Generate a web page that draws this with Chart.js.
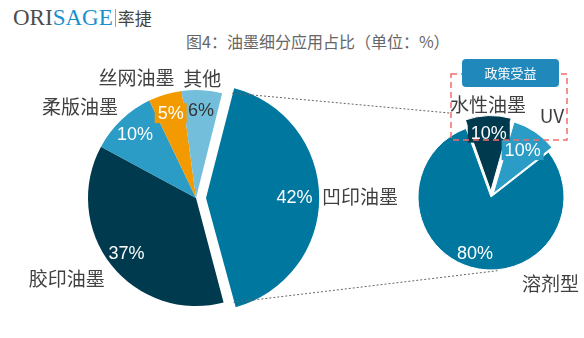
<!DOCTYPE html>
<html>
<head>
<meta charset="utf-8">
<script src="https://cdn.jsdelivr.net/npm/chart.js@4.4.1/dist/chart.umd.min.js"></script>
<style>
  body { margin: 0; background: #fff; }
  #wrap { position: relative; width: 584px; height: 338px; overflow: hidden; font-family: "Noto Sans CJK SC", sans-serif; }
  canvas { position: absolute; left: 0; top: 0; }
  .logo { position: absolute; left: 13px; top: 5px; white-space: nowrap; }
  .logo .ori { font: 23px "Liberation Serif", serif; color: #4d4d4d; }
  .logo .sage { font: 23px "Liberation Serif", serif; color: #1a8fd0; }
  .logo .sep { display: inline-block; width: 1px; height: 18px; background: #7fa9c8; margin: 0 2px; vertical-align: -2px; }
  .logo .cn { font-size: 17px; color: #444; }
  .title { position: absolute; left: 186px; top: 29px; font-size: 16px; color: #666; white-space: nowrap; }
</style>
</head>
<body>
<div id="wrap">
  <div class="logo"><span class="ori">ORI</span><span class="sage">SAGE</span><span class="sep"></span><span class="cn">率捷</span></div>
  <div class="title">图4：油墨细分应用占比（单位：%）</div>
  <canvas id="mainPie" width="584" height="338"></canvas>
  <canvas id="subPie" width="584" height="338"></canvas>
</div>
<script>
// data
const mainLabels = ['凹印油墨', '胶印油墨', '柔版油墨', '丝网油墨', '其他'];
const mainValues = [42, 37, 10, 5, 6];
const subLabels = ['水性油墨', 'UV', '溶剂型'];
const subValues = [10, 10, 80];
const tagText = '政策受益';

// styles
const mainColors = ['#00779f', '#003a4e', '#2a9cc6', '#f39a00', '#72bedb'];
const subColors = ['#003a4e', '#2a9cc6', '#00779f'];
const OFFSET_DIV = 4; // chart.js v4 arc translates by offset/4

const mainPlace = {
  pctRatio: [0.82, 0.82, 0.82, 0.82, 0.82],
  nameGap: [8, 8, 5, 5, 2],
  pctColor: ['#fff', '#fff', '#fff', '#fff', '#333'],
  pctBox: [false, false, false, true, false],
  nameAngle: [null, null, null, 349, null],
  nameAlign: [null, null, null, 'right', null]
};
const subPlace = {
  pctRatio: [0.8, 0.72, 0.8],
  nameGap: [4, 10, 10],
  pctColor: ['#fff', '#fff', '#fff'],
  pctBox: [true, true, false],
  nameAngle: [null, null, 158],
  nameAlign: [null, null, null]
};

function pieLabels(place) {
  return {
    id: 'pieLabels',
    afterDatasetsDraw(chart) {
      const ctx = chart.ctx;
      const meta = chart.getDatasetMeta(0);
      const ds = chart.data.datasets[0];
      meta.data.forEach((arc, i) => {
        const p = arc.getProps(['x', 'y', 'startAngle', 'endAngle', 'outerRadius']);
        const mid = (p.startAngle + p.endAngle) / 2;
        const shift = (arc.options.offset || 0) / OFFSET_DIV;
        const cx = p.x + Math.cos(mid) * shift;
        const cy = p.y + Math.sin(mid) * shift;

        // percent label
        const pr = p.outerRadius * place.pctRatio[i];
        const px = cx + Math.cos(mid) * pr;
        const py = cy + Math.sin(mid) * pr;
        const txt = ds.data[i] + '%';
        ctx.save();
        ctx.font = '18px "Liberation Sans", Arial, sans-serif';
        ctx.textAlign = 'center';
        ctx.textBaseline = 'middle';
        if (place.pctBox[i]) {
          const w = ctx.measureText(txt).width + 6;
          ctx.fillStyle = ds.backgroundColor[i];
          ctx.fillRect(px - w / 2, py - 10, w, 20);
        }
        ctx.fillStyle = place.pctColor[i];
        ctx.fillText(txt, px, py + 1);

        // category label
        const la = place.nameAngle[i] != null ? (place.nameAngle[i] - 90) * Math.PI / 180 : mid;
        const nr = p.outerRadius + place.nameGap[i];
        const nx = cx + Math.cos(la) * nr;
        const ny = cy + Math.sin(la) * nr;
        const cs = Math.cos(la), sn = Math.sin(la);
        ctx.font = '19px "Noto Sans CJK SC", sans-serif';
        ctx.fillStyle = '#404040';
        ctx.textAlign = place.nameAlign[i] || (cs > 0.3 ? 'left' : (cs < -0.2 ? 'right' : 'center'));
        ctx.textBaseline = sn < -0.5 ? 'bottom' : (sn > 0.5 ? 'top' : 'middle');
        ctx.fillText(chart.data.labels[i], nx, ny);
        ctx.restore();
      });
    }
  };
}

let mainChart;

const overlay = {
  id: 'overlay',
  afterDraw(chart) {
    const ctx = chart.ctx;
    // connector lines from the exploded slice to the second pie
    const a = mainChart.getDatasetMeta(0).data[0];
    const ap = a.getProps(['x', 'y', 'startAngle', 'endAngle', 'outerRadius']);
    const am = (ap.startAngle + ap.endAngle) / 2;
    const ash = (a.options.offset || 0) / OFFSET_DIV;
    const ax = ap.x + Math.cos(am) * ash, ay = ap.y + Math.sin(am) * ash;
    const b = chart.getDatasetMeta(0).data[2];
    const bp = b.getProps(['x', 'y', 'outerRadius']);
    ctx.save();
    ctx.strokeStyle = '#666';
    ctx.lineWidth = 1;
    ctx.setLineDash([2, 2]);
    ctx.beginPath();
    ctx.moveTo(ax + Math.cos(ap.startAngle) * ap.outerRadius, ay + Math.sin(ap.startAngle) * ap.outerRadius);
    ctx.lineTo(bp.x - bp.outerRadius * 0.56, bp.y - bp.outerRadius * 1.15);
    ctx.moveTo(ax + Math.cos(ap.endAngle) * ap.outerRadius, ay + Math.sin(ap.endAngle) * ap.outerRadius);
    const ea = (175 - 90) * Math.PI / 180;
    ctx.lineTo(bp.x + Math.cos(ea) * (bp.outerRadius + 1), bp.y + Math.sin(ea) * (bp.outerRadius + 1));
    ctx.stroke();

    // red dashed highlight box
    ctx.strokeStyle = '#f26d6d';
    ctx.lineWidth = 1.5;
    ctx.setLineDash([6, 4]);
    ctx.strokeRect(451, 74, 116, 66);

    // tag
    ctx.setLineDash([]);
    ctx.fillStyle = '#2088bb';
    ctx.beginPath();
    ctx.roundRect(462, 59, 97, 28, 4);
    ctx.fill();
    ctx.fillStyle = '#fff';
    ctx.font = '13px "Noto Sans CJK SC", sans-serif';
    ctx.textAlign = 'center';
    ctx.textBaseline = 'middle';
    ctx.fillText(tagText, 510.5, 73.5);
    ctx.restore();
  }
};

const common = {
  responsive: false,
  animation: false,
  events: [],
  plugins: { legend: { display: false }, tooltip: { enabled: false } }
};

mainChart = new Chart(document.getElementById('mainPie'), {
  type: 'pie',
  data: {
    labels: mainLabels,
    datasets: [{
      data: mainValues,
      backgroundColor: mainColors,
      borderWidth: 0,
      offset: [40, 0, 0, 0, 0],
      hoverOffset: 0
    }]
  },
  options: {
    ...common,
    rotation: 14,
    radius: 108,
    layout: { padding: { left: 80, right: 272, top: 86, bottom: 28 } }
  },
  plugins: [pieLabels(mainPlace)]
});

new Chart(document.getElementById('subPie'), {
  type: 'pie',
  data: {
    labels: subLabels,
    datasets: [{
      data: subValues,
      backgroundColor: subColors,
      borderColor: '#fff',
      borderWidth: 1,
      offset: [24, 16, 0],
      hoverOffset: 0
    }]
  },
  options: {
    ...common,
    rotation: -20,
    radius: 73,
    layout: { padding: { left: 413, right: 15, top: 119, bottom: 63 } }
  },
  plugins: [pieLabels(subPlace), overlay]
});
</script>
</body>
</html>
